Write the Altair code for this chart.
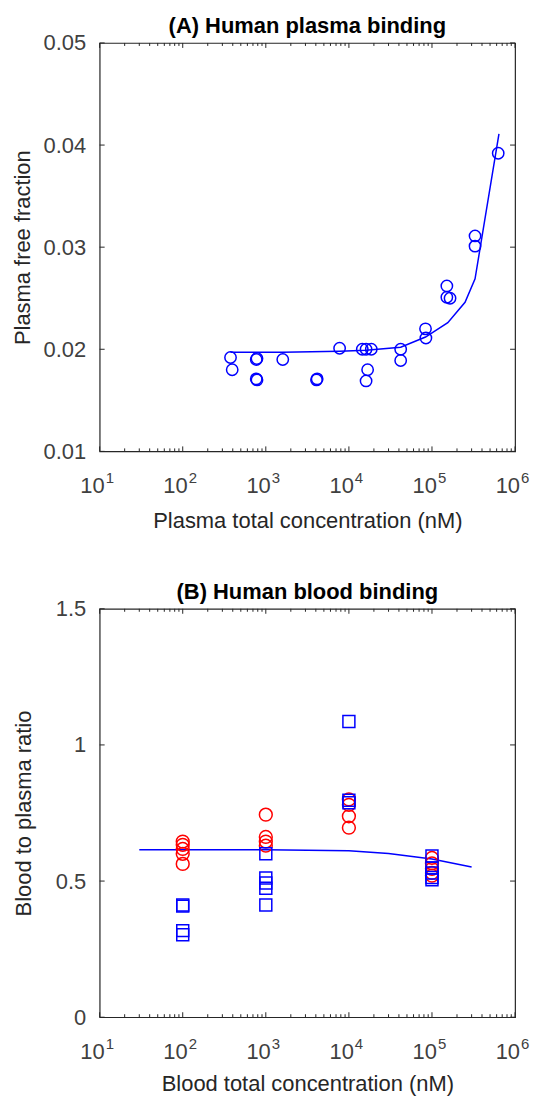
import altair as alt
import pandas as pd

# ---------------- Panel A data ----------------
a_conc = [376, 394, 767, 783, 767, 783, 1600, 4075, 4150, 7730,
          14500, 16100, 18600, 16800, 16100, 42000, 42000, 83600, 84500,
          151000, 151000, 165000, 330000, 330000, 627000]
a_fu = [0.0192, 0.0180, 0.0190, 0.0191, 0.0171, 0.0170, 0.0190, 0.0170, 0.0171, 0.0201,
        0.0200, 0.0200, 0.0200, 0.0180, 0.0169, 0.0200, 0.0189, 0.0220, 0.0211,
        0.0262, 0.0251, 0.0250, 0.0311, 0.0301, 0.0392]
a_fit_conc = [376, 1600, 7730, 16100, 42000, 83600, 155000, 250000, 330000, 640000]
a_fit_fu = [0.0197, 0.0197, 0.0198, 0.0199, 0.0202, 0.0212, 0.0226, 0.0246, 0.0269, 0.0411]

# ---------------- Panel B data ----------------
b_red_conc = [100] * 5 + [1000] * 4 + [10000] * 4 + [100000] * 5
b_red_ratio = [0.645, 0.633, 0.618, 0.600, 0.563,
               0.744, 0.662, 0.645, 0.630,
               0.800, 0.780, 0.738, 0.696,
               0.585, 0.565, 0.545, 0.530, 0.520]
b_blue_conc = [100] * 4 + [1000] * 5 + [10000] * 3 + [100000] * 5
b_blue_ratio = [0.412, 0.408, 0.318, 0.303,
                0.600, 0.511, 0.493, 0.474, 0.412,
                1.086, 0.797, 0.788,
                0.592, 0.548, 0.530, 0.513, 0.505]
b_fit_conc = [30, 1000, 10000, 30000, 100000, 300000]
b_fit_ratio = [0.615, 0.615, 0.611, 0.601, 0.581, 0.552]

# ---------------- axis / tick values ----------------
x_major = [10, 100, 1000, 10000, 100000, 1000000]
x_exp = ["1", "2", "3", "4", "5", "6"]
x_minor = [m * 10 ** k for k in range(1, 6) for m in range(2, 10)]
a_yticks = [0.01, 0.02, 0.03, 0.04, 0.05]
b_yticks = [0, 0.5, 1, 1.5]

W, H = 417, 410
FONT = "Liberation Sans"
BLUE = "#0000FF"
RED = "#FF0000"
TXT = "#262626"
LBL = "#404040"
FS = 22


def panel(title, xtitle, ytitle, ydom, yticks, yfmt, ytpad, xtpad, layers_data):
    xs = alt.Scale(type="log", domain=[10, 1e6], nice=False)
    ys = alt.Scale(domain=ydom, nice=False, zero=False)
    xax = alt.Axis(title=xtitle, labels=False, ticks=False, domain=False, grid=False,
                   titleFont=FONT, titleFontSize=FS, titleFontWeight="normal",
                   titleColor=TXT, titlePadding=xtpad)
    yax = alt.Axis(title=ytitle, values=yticks, format=yfmt, ticks=False, domain=False,
                   grid=False, labelFont=FONT, labelFontSize=FS, labelColor=LBL,
                   labelPadding=14, titleFont=FONT, titleFontSize=FS,
                   titleFontWeight="normal", titleColor=TXT, titlePadding=ytpad)
    X = lambda: alt.X("x:Q", scale=xs, axis=xax)
    Y = lambda: alt.Y("y:Q", scale=ys, axis=yax)
    layers = []
    for kind, xv, yv, color, size in layers_data:
        df = pd.DataFrame({"x": xv, "y": yv})
        if kind == "line":
            m = alt.Chart(df).mark_line(color=color, strokeWidth=1.5, clip=True)
        else:
            m = alt.Chart(df).mark_point(shape=kind, color=color, size=size,
                                         strokeWidth=1.5, filled=False, opacity=1)
        layers.append(m.encode(x=X(), y=Y()))

    # inner ticks (MATLAB style, on all four sides)
    dmaj = pd.DataFrame({"x": x_major})
    dmin = pd.DataFrame({"x": x_minor})
    dy = pd.DataFrame({"y": yticks})
    tcol = "#262626"
    for d, ln in ((dmaj, 5), (dmin, 3)):
        layers.append(alt.Chart(d).mark_rule(color=tcol, strokeWidth=1).encode(
            x=X(), y=alt.value(H), y2=alt.value(H - ln)))
        layers.append(alt.Chart(d).mark_rule(color=tcol, strokeWidth=1).encode(
            x=X(), y=alt.value(0), y2=alt.value(ln)))
    layers.append(alt.Chart(dy).mark_rule(color=tcol, strokeWidth=1).encode(
        y=Y(), x=alt.value(0), x2=alt.value(5)))
    layers.append(alt.Chart(dy).mark_rule(color=tcol, strokeWidth=1).encode(
        y=Y(), x=alt.value(W), x2=alt.value(W - 5)))

    # x tick labels: 10 with superscript exponent
    dl = pd.DataFrame({"x": x_major, "e": x_exp})
    layers.append(alt.Chart(dl).mark_text(font=FONT, fontSize=FS, color=LBL, align="right",
                                          baseline="alphabetic", dx=5).encode(
        x=X(), y=alt.value(H + 42), text=alt.value("10")))
    layers.append(alt.Chart(dl).mark_text(font=FONT, fontSize=15, color=LBL, align="left",
                                          baseline="alphabetic", dx=6).encode(
        x=X(), y=alt.value(H + 32), text="e:N"))

    return alt.layer(*layers).properties(
        width=W, height=H,
        title=alt.Title(title, font=FONT, fontSize=22, fontWeight="bold", color="#000000",
                        anchor="middle", frame="group", offset=-6))


top = panel("(A) Human plasma binding", "Plasma total concentration (nM)",
            "Plasma free fraction", [0.01, 0.05], a_yticks, ".2f", 9, 59,
            [("line", a_fit_conc, a_fit_fu, BLUE, 0),
             ("circle", a_conc, a_fu, BLUE, 130)])

bottom = panel("(B) Human blood binding", "Blood total concentration (nM)",
               "Blood to plasma ratio", [0, 1.5], b_yticks, ".1~f", 20, 57,
               [("line", b_fit_conc, b_fit_ratio, BLUE, 0),
                ("circle", b_red_conc, b_red_ratio, RED, 165),
                ("square", b_blue_conc, b_blue_ratio, BLUE, 144)])

chart = alt.vconcat(top, bottom, spacing=158, bounds="flush").configure_view(
    stroke="#262626", strokeWidth=1.2
).properties(padding={"left": 2, "top": 4, "right": 0, "bottom": 0}, background="white")

chart.save("out.html", embed_options={"renderer": "svg", "actions": False})
